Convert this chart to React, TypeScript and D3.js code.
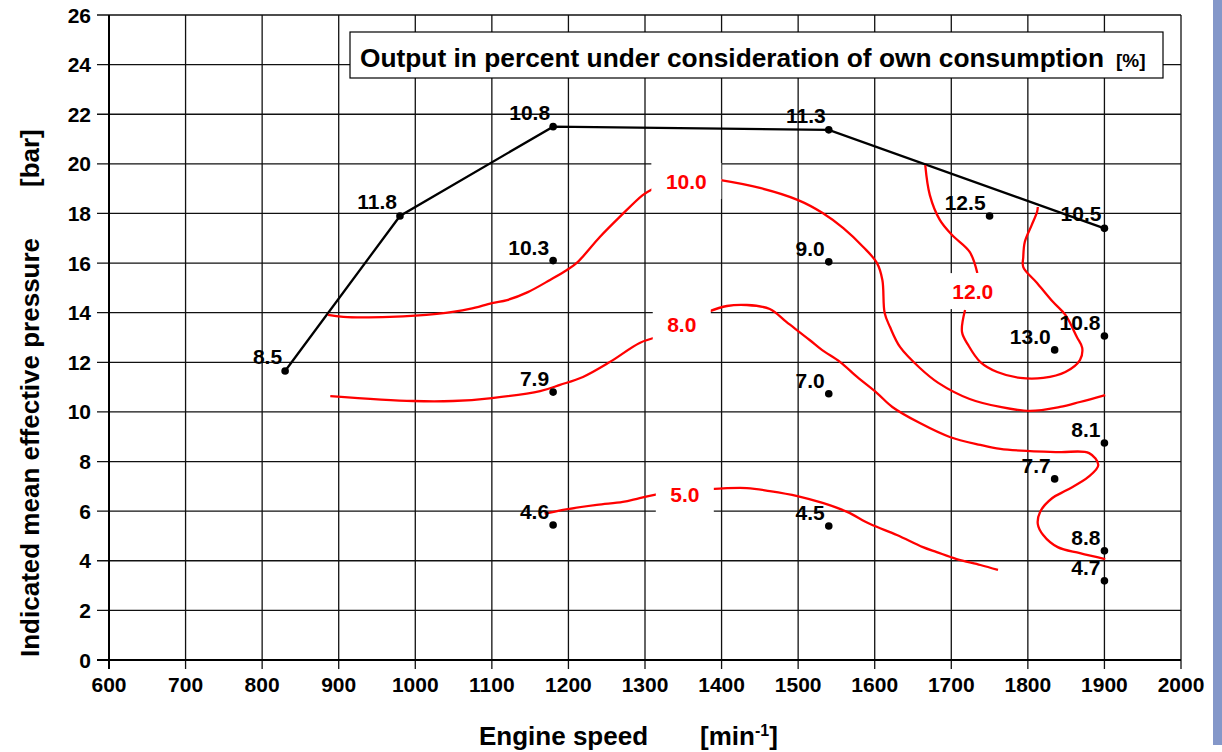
import * as d3 from "d3";

// engine map: output % incl. own consumption
const xTicks = d3.range(600, 2001, 100);
const yTicks = d3.range(0, 27, 2);

const envelopeRpm = [830, 980, 1180, 1540, 1900];
const envelopeBar = [11.65, 17.9, 21.5, 21.37, 17.4];
const envelopeLabels = ["8.5", "11.8", "10.8", "11.3", "10.5"];

const pointRpm = [1180, 1540, 1750, 1835, 1900, 1180, 1540, 1900, 1835, 1180, 1540, 1900, 1900];
const pointBar = [16.1, 16.05, 17.9, 12.5, 13.06, 10.8, 10.73, 8.75, 7.3, 5.44, 5.4, 4.4, 3.19];
const pointLabels = ["10.3", "9.0", "12.5", "13.0", "10.8", "7.9", "7.0", "8.1", "7.7", "4.6", "4.5", "8.8", "4.7"];

// iso-lines, split where the label sits
const contour10a = [[886, 13.91], [906, 13.83], [967, 13.83], [1028, 13.95], [1071, 14.15], [1100, 14.39], [1120, 14.51], [1147, 14.83], [1176, 15.32], [1198, 15.72], [1212, 16.04], [1241, 17.05], [1267, 17.86], [1297, 18.74], [1310, 18.99]];
const contour10b = [[1397, 19.35], [1450, 19.03], [1500, 18.54], [1532, 18.02], [1559, 17.41], [1585, 16.65], [1603, 16.0], [1610, 15.32], [1613, 13.99], [1620, 13.42], [1633, 12.62], [1659, 11.77], [1683, 11.17], [1724, 10.52], [1764, 10.2], [1803, 10.04], [1842, 10.2], [1868, 10.4], [1901, 10.68]];
const contour8a = [[889, 10.64], [997, 10.44], [1049, 10.44], [1100, 10.56], [1163, 10.84], [1189, 11.09], [1219, 11.41], [1254, 12.01], [1293, 12.78], [1316, 13.02]];
const contour8b = [[1382, 14.03], [1407, 14.27], [1433, 14.31], [1463, 14.15], [1485, 13.62], [1515, 12.9], [1531, 12.5], [1555, 12.01], [1577, 11.41], [1603, 10.76], [1623, 10.2], [1659, 9.55], [1698, 8.99], [1738, 8.67], [1764, 8.51], [1803, 8.42], [1842, 8.38], [1880, 8.34], [1892, 7.86], [1879, 7.38], [1851, 6.85], [1832, 6.53], [1816, 5.97], [1813, 5.48], [1820, 5.04], [1839, 4.55], [1868, 4.31], [1901, 4.07]];
const contour5a = [[1169, 5.89], [1193, 6.05], [1237, 6.25], [1271, 6.37], [1293, 6.53], [1317, 6.69]];
const contour5b = [[1385, 6.89], [1433, 6.93], [1463, 6.81], [1499, 6.61], [1532, 6.33], [1564, 5.97], [1594, 5.48], [1629, 5.04], [1663, 4.55], [1681, 4.35], [1707, 4.07], [1738, 3.83], [1761, 3.63]];
const contour12a = [[1666, 19.95], [1672, 18.74], [1685, 17.74], [1701, 17.13], [1724, 16.45], [1734, 15.6]];
const contour12b = [[1718, 14.11], [1714, 13.22], [1722, 12.7], [1738, 12.01], [1760, 11.61], [1790, 11.37], [1820, 11.37], [1849, 11.61], [1868, 12.09], [1871, 12.58], [1864, 13.02], [1849, 13.91], [1833, 14.43], [1812, 15.2], [1794, 15.84], [1794, 16.24], [1796, 16.85], [1805, 17.53], [1812, 18.06], [1813, 18.26]];
const contourSegments = [contour10a, contour10b, contour8a, contour8b, contour5a, contour5b, contour12a, contour12b];

const contourLabels = ["10.0", "8.0", "5.0", "12.0"];
const contourLabelRpm = [1354, 1348, 1352, 1728];
const contourLabelBar = [19.31, 13.52, 6.69, 14.87];

const FONT = "'Liberation Sans', Arial, sans-serif";

export default function App() {
  const x = d3.scaleLinear().domain([600, 2000]).range([109, 1181]);
  const y = d3.scaleLinear().domain([0, 26]).range([660, 15]);

  const line = d3
    .line<number[]>()
    .x((d) => x(d[0]))
    .y((d) => y(d[1]))
    .curve(d3.curveCatmullRom.alpha(0.5));

  const envelopePath = d3
    .line<number>()
    .x((d) => x(d))
    .y((_, i) => y(envelopeBar[i]))(envelopeRpm);

  const labelFont = { fontFamily: FONT, fontWeight: 700, fontSize: 21 };

  return (
    <svg
      width={1222}
      height={752}
      style={{ position: "fixed", left: 0, top: 0, background: "#fff" }}
    >
      <rect x={0} y={0} width={1222} height={752} fill="#fff" />

      {/* grid */}
      <g stroke="#111" strokeWidth={1.3}>
        {xTicks.map((t) => (
          <line key={"gx" + t} x1={x(t)} x2={x(t)} y1={y(26)} y2={y(0) + 9} />
        ))}
        {yTicks.map((t) => (
          <line key={"gy" + t} x1={x(600) - 12} x2={x(2000)} y1={y(t)} y2={y(t)} />
        ))}
      </g>
      <line x1={x(600)} x2={x(600)} y1={y(26)} y2={y(0) + 9} stroke="#000" strokeWidth={2} />
      <line x1={x(600) - 12} x2={x(2000)} y1={y(0)} y2={y(0)} stroke="#000" strokeWidth={2} />

      {/* tick labels */}
      <g style={labelFont} fill="#000">
        {yTicks.map((t) => (
          <text key={"ty" + t} x={x(600) - 18} y={y(t)} dy="0.36em" textAnchor="end">
            {t}
          </text>
        ))}
        {xTicks.map((t) => (
          <text key={"tx" + t} x={x(t)} y={y(0) + 32} textAnchor="middle">
            {t}
          </text>
        ))}
      </g>

      {/* title box */}
      <rect x={350} y={32} width={813} height={46} fill="#fff" stroke="#000" strokeWidth={1.2} />
      <text x={360} y={67} style={{ fontFamily: FONT, fontWeight: 700, fontSize: 26 }} textLength={744} lengthAdjust="spacingAndGlyphs">
        Output in percent under consideration of own consumption
      </text>
      <text x={1116} y={67} style={{ fontFamily: FONT, fontWeight: 700, fontSize: 19 }}>
        [%]
      </text>

      {/* full load line */}
      <path d={envelopePath ?? ""} fill="none" stroke="#000" strokeWidth={2.3} />

      {/* iso-lines */}
      {contourSegments.map((seg, i) => (
        <path key={"c" + i} d={line(seg) ?? ""} fill="none" stroke="#ff0000" strokeWidth={2.3} />
      ))}
      {contourLabels.map((lab, i) => {
        const cx = x(contourLabelRpm[i]);
        const cy = y(contourLabelBar[i]);
        const w = lab.length * 12 + 22;
        return (
          <g key={"cl" + i}>
            <rect x={cx - w / 2} y={cy - 18} width={w} height={36} fill="#fff" />
            <text x={cx} y={cy} dy="0.36em" textAnchor="middle" fill="#ff0000" style={labelFont}>
              {lab}
            </text>
          </g>
        );
      })}

      {/* measured points */}
      {envelopeRpm.map((r, i) => (
        <g key={"e" + i}>
          <circle cx={x(r)} cy={y(envelopeBar[i])} r={3.8} fill="#000" />
          <text x={x(r) - 3} y={y(envelopeBar[i]) - 7} textAnchor="end" style={labelFont}>
            {envelopeLabels[i]}
          </text>
        </g>
      ))}
      {pointRpm.map((r, i) => (
        <g key={"p" + i}>
          <circle cx={x(r)} cy={y(pointBar[i])} r={3.8} fill="#000" />
          <text x={x(r) - 4} y={y(pointBar[i]) - 6} textAnchor="end" style={labelFont}>
            {pointLabels[i]}
          </text>
        </g>
      ))}

      {/* axis titles */}
      <text x={479} y={745} style={{ fontFamily: FONT, fontWeight: 700, fontSize: 26 }}>
        Engine speed
      </text>
      <text x={700} y={745} style={{ fontFamily: FONT, fontWeight: 700, fontSize: 26 }}>
        [min
        <tspan dy={-9} fontSize={16}>-1</tspan>
        <tspan dy={9}>]</tspan>
      </text>
      <text
        transform="translate(39,657) rotate(-90)"
        style={{ fontFamily: FONT, fontWeight: 700, fontSize: 26 }}
      >
        Indicated mean effective pressure
      </text>
      <text
        transform="translate(39,187) rotate(-90)"
        style={{ fontFamily: FONT, fontWeight: 700, fontSize: 26 }}
      >
        [bar]
      </text>

      {/* side strip */}
      <rect x={1213} y={0} width={9} height={745} fill="#8497c9" />
    </svg>
  );
}
